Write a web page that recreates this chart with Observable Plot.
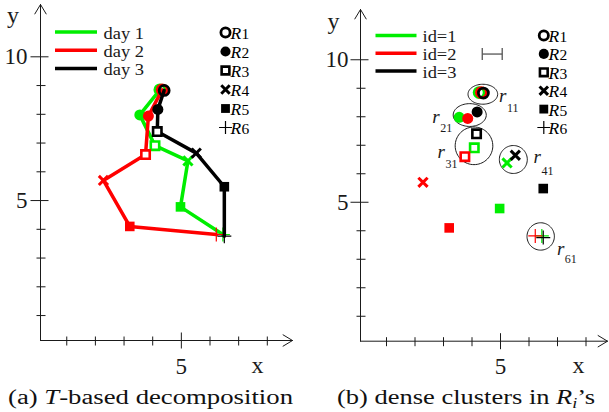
<!DOCTYPE html>
<html><head><meta charset="utf-8">
<script src="https://cdn.jsdelivr.net/npm/d3@7"></script>
<script src="https://cdn.jsdelivr.net/npm/@observablehq/plot@0.6"></script>
<style>
body{margin:0;background:#fff;}
#wrap{display:flex;width:609px;height:412px;overflow:hidden;}
.panel{position:relative;}
.panel svg{display:block;}
.cap{position:absolute;top:383px;white-space:nowrap;font-family:"Liberation Serif",serif;font-size:20.5px;color:#111;line-height:29px;transform-origin:0 0;}
.cap sub{font-size:14px;vertical-align:-4px;line-height:0;}
</style></head><body><div id="wrap"></div>
<script>
// ---- data ----
const regions = ["1","2","3","4","5","6"];            // R1..R6
const seriesA = ["day 1","day 2","day 3"];
const seriesB = ["id=1","id=2","id=3"];
const seriesColors = ["#00ee00","#ff0000","#000000"];
const xs1 = [4.25,3.55,4.08,5.23,4.97,6.45];
const ys1 = [8.85,7.98,6.91,6.38,4.78,3.82];
const xs2 = [4.33,3.85,3.75,2.28,3.20,6.22];
const ys2 = [8.85,7.94,6.60,5.70,4.10,3.82];
const xs3 = [4.40,4.18,4.16,5.52,6.50,6.50];
const ys3 = [8.83,8.17,7.40,6.65,5.48,3.76];
const clusterNames = ["11","21","31","41","61"];
const clusterX  = [4.38,3.92,4.07,5.45,6.41];
const clusterY  = [8.79,8.06,6.98,6.50,3.80];
const clusterRx = [0.52,0.58,0.66,0.49,0.48];
const clusterRy = [0.35,0.40,0.66,0.49,0.48];
const epsBarX = [4.36,5.06];
const epsBarY = [10.2];
const xTicks = [1,2,3,4,5,6,7,8];
const yTicks = [1,2,3,4,5,6,7,8,9,10];
const xTickLabels = [5];
const yTickLabels = [5,10];

const XS = [xs1,xs2,xs3], YS = [ys1,ys2,ys3];
const points = [];
XS.forEach((xs,k)=>xs.forEach((x,i)=>points.push({s:k,r:i,x,y:YS[k][i]})));

// ---- layout / styles ----
const sym = {
  square:h=>({draw(c){c.rect(-h,-h,2*h,2*h);}}),
  cross:h=>({draw(c){c.moveTo(-h,-h);c.lineTo(h,h);c.moveTo(-h,h);c.lineTo(h,-h);}}),
  plus:h=>({draw(c){c.moveTo(-h,0);c.lineTo(h,0);c.moveTo(0,-h);c.lineTo(0,h);}}),
  vtick:(a,b)=>({draw(c){c.moveTo(0,a);c.lineTo(0,b);}}),
  htick:(a,b)=>({draw(c){c.moveTo(a,0);c.lineTo(b,0);}})
};
function markerOpts(i, col, k){
  k = k||1;
  switch(i){
    case 0: return {symbol:"circle", r:5*k, fill:"none", stroke:col, strokeWidth:2.8};
    case 1: return {symbol:"circle", r:5.5*k, fill:col, stroke:"none"};
    case 2: return {symbol:sym.square(4.2*k), fill:"white", stroke:col, strokeWidth:2.6};
    case 3: return {symbol:sym.cross(4.6*k), fill:"none", stroke:col, strokeWidth:3};
    case 4: return {symbol:sym.square(4.8*k), fill:col, stroke:"none"};
    case 5: return {symbol:sym.plus(7*k), fill:"none", stroke:col, strokeWidth:1.2};
  }
}
const serif = "Liberation Serif";
const legendStretch = 1.12;

const panels = [
  {width:304, x0:37.6, kx:28.65, xMax:8.9, y0:343.8, ky:28.75, yMax:11.85,
   axis:[40,340], xTip:292, yTip:4, yLblDx:-13, xLbl:[257,372], yLbl:[12.5,22],
   legLine:[54.5,96.5], legText:103, legRow0:31.5, legStep:18.2, names:seriesA,
   rMark:225, rText:230, rRow0:32, rRow:19, lines:true,
   caption:'(a) <i>T</i>-based decomposition', capLeft:8, capWidth:285},
  {width:305, x0:53.5, kx:28.5, xMax:8.8, y0:344.25, ky:28.5, yMax:11.75,
   axis:[56,340.7], xTip:303, yTip:9, yLblDx:-12, xLbl:[274,372], yLbl:[29,28],
   legLine:[71,112], legText:118, legRow0:35, legStep:17.8, names:seriesB,
   rMark:239.3, rText:244, rRow0:35, rRow:18.4, lines:false,
   caption:'(b) dense clusters in <i>R<sub>i</sub></i>’s', capLeft:32.7, capWidth:258}
];
const labelOffsets = { // px offsets of cluster labels from cluster centre: [r centre dx, r baseline dy, sub baseline dy]
  "11":[20,8,18], "21":[-33.6,8,17], "31":[-32.7,12,22], "41":[24,3,15], "61":[20,19,27]
};

function build(p){
  const ix = px => (px - p.x0)/p.kx;
  const iy = py => (p.y0 - py)/p.ky;
  const ox = ix(p.axis[0]), oy = iy(p.axis[1]);
  const M = [];
  const ink = "#1a1a1a";
  // axes
  M.push(Plot.arrow([0],{x1:()=>ox,y1:()=>oy,x2:()=>ix(p.xTip),y2:()=>oy,stroke:ink,strokeWidth:1,headAngle:62,headLength:16.5}));
  M.push(Plot.arrow([0],{x1:()=>ox,y1:()=>oy,x2:()=>ox,y2:()=>iy(p.yTip),stroke:ink,strokeWidth:1,headAngle:62,headLength:16.5}));
  M.push(Plot.dot(xTicks.filter(t=>!xTickLabels.includes(t)),{x:d=>d,y:()=>oy,symbol:sym.vtick(-4,5),stroke:ink,strokeWidth:1}));
  M.push(Plot.dot(xTickLabels,{x:d=>d,y:()=>oy,symbol:sym.vtick(-8,8),stroke:ink,strokeWidth:1}));
  M.push(Plot.dot(yTicks.filter(t=>!yTickLabels.includes(t)),{x:()=>ox,y:d=>d,symbol:sym.htick(-4,5),stroke:ink,strokeWidth:1}));
  M.push(Plot.dot(yTickLabels,{x:()=>ox,y:d=>d,symbol:sym.htick(-10,8),stroke:ink,strokeWidth:1}));
  M.push(Plot.text(xTickLabels,{x:d=>d,y:()=>oy,text:d=>String(d),dy:33,lineAnchor:"bottom",fontSize:23,fontFamily:serif,fill:ink}));
  M.push(Plot.text(yTickLabels,{x:()=>ox,y:d=>d,text:d=>String(d),dx:p.yLblDx,textAnchor:"end",lineAnchor:"middle",fontSize:23,fontFamily:serif,fill:ink}));
  M.push(Plot.text(["x"],{x:()=>ix(p.xLbl[0]),y:()=>iy(p.xLbl[1]),text:d=>d,lineAnchor:"bottom",fontSize:24,fontFamily:serif,fill:ink}));
  M.push(Plot.text(["y"],{x:()=>ix(p.yLbl[0]),y:()=>iy(p.yLbl[1]),text:d=>d,lineAnchor:"bottom",fontSize:24,fontFamily:serif,fill:ink}));
  // series legend
  p.names.forEach((n,k)=>{
    const ry = p.legRow0 + k*p.legStep;
    M.push(Plot.link([n],{x1:()=>ix(p.legLine[0]),x2:()=>ix(p.legLine[1]),y1:()=>iy(ry),y2:()=>iy(ry),stroke:seriesColors[k],strokeWidth:3.5}));
    M.push(Plot.text([n],{x:()=>ix(p.legText),y:()=>iy(ry+1.5),text:d=>d,textAnchor:"start",lineAnchor:"middle",fontSize:16.5,fontFamily:serif,fill:ink}));
  });
  // region legend
  regions.forEach((r,i)=>{
    const ry = p.rRow0 + i*p.rRow;
    M.push(Plot.dot([r],{x:()=>ix(p.rMark),y:()=>iy(ry),...markerOpts(i,"#000",0.92)}));
    M.push(Plot.text([r],{x:()=>ix(p.rText),y:()=>iy(ry+6.5),text:d=>"R"+d,textAnchor:"start",lineAnchor:"bottom",fontSize:16.5,fontFamily:serif,fill:"#000"}));
  });
  if(p.lines){
    seriesColors.forEach((c,k)=>{
      const pts = points.filter(d=>d.s===k);
      M.push(Plot.line(pts,{x:"x",y:"y",stroke:c,strokeWidth:3.5,strokeLinejoin:"round"}));
      regions.forEach((r,i)=>M.push(Plot.dot(pts.filter(d=>d.r===i),{x:"x",y:"y",...markerOpts(i,c)})));
    });
  } else {
    // clusters
    const ell = [];
    clusterNames.forEach((n,j)=>{ for(let a=0;a<72;a++){const t=a/72*2*Math.PI; ell.push({c:n,x:clusterX[j]+clusterRx[j]*Math.cos(t),y:clusterY[j]+clusterRy[j]*Math.sin(t)});}});
    M.push(Plot.line(ell,{x:"x",y:"y",z:"c",curve:"linear-closed",stroke:ink,strokeWidth:1}));
    clusterNames.forEach((n,j)=>{
      const o = labelOffsets[n];
      M.push(Plot.text([n],{x:()=>clusterX[j]+(o[0]-3.8)/p.kx,y:()=>clusterY[j]-o[1]/p.ky,text:d=>"r"+d,textAnchor:"start",lineAnchor:"bottom",fontSize:19,fontFamily:serif,fill:ink}));
    });
    // epsilon bar
    M.push(Plot.link(epsBarY,{x1:()=>epsBarX[0],x2:()=>epsBarX[1],y1:d=>d,y2:d=>d,stroke:"#555",strokeWidth:1.3}));
    M.push(Plot.dot(epsBarX,{x:d=>d,y:()=>epsBarY[0],symbol:sym.vtick(-6,6),stroke:"#555",strokeWidth:1.3}));
    seriesColors.forEach((c,k)=>{
      const pts = points.filter(d=>d.s===k);
      regions.forEach((r,i)=>M.push(Plot.dot(pts.filter(d=>d.r===i),{x:"x",y:"y",...markerOpts(i,c)})));
    });
  }
  const svg = Plot.plot({
    width:p.width, height:383, style:{background:"white",overflow:"visible"},
    x:{domain:[0,p.xMax],range:[p.x0,p.x0+p.xMax*p.kx],axis:null},
    y:{domain:[0,p.yMax],range:[p.y0,p.y0-p.yMax*p.ky],axis:null},
    color:{type:"identity"},
    marks:M
  });
  // mixed-style labels: italic letter + upright index
  const NS = "http://www.w3.org/2000/svg";
  svg.querySelectorAll("text").forEach(t=>{
    const s = t.textContent; let m;
    const span = (txt, attrs) => { const e=document.createElementNS(NS,"tspan"); e.textContent=txt; for(const k in attrs) e.setAttribute(k,attrs[k]); t.appendChild(e); };
    if((m = s.match(/^R(\d)$/))){
      t.textContent=""; span("R",{"font-style":"italic","font-size":"17.5"}); span(m[1],{"font-size":"15.5","dx":"0.3"});
    } else if((m = s.match(/^r(\d\d)$/))){
      const o = labelOffsets[m[1]];
      t.textContent=""; span("r",{"font-style":"italic"}); span(m[1],{"font-size":"12","dx":"0.5","dy":String(o[2]-o[1])});
    }
  });
  const div = document.createElement("div");
  div.className="panel"; div.style.width=p.width+"px"; div.style.height="412px";
  div.appendChild(svg);
  const cap = document.createElement("div");
  cap.className="cap"; cap.innerHTML=p.caption; cap.style.left=p.capLeft+"px";
  div.appendChild(cap);
  document.getElementById("wrap").appendChild(div);
  // widen legend labels a little (the reference lettering is horizontally stretched)
  svg.querySelectorAll("text").forEach(t=>{
    if(p.names.includes(t.textContent)){
      const L = t.getComputedTextLength();
      t.setAttribute("textLength",(L*legendStretch).toFixed(1));
      t.setAttribute("lengthAdjust","spacingAndGlyphs");
    }
  });
  // stretch caption horizontally to the reference width
  const w = cap.getBoundingClientRect().width;
  cap.style.transform = "scaleX(" + (p.capWidth / w).toFixed(4) + ")";
}
panels.forEach(build);
</script></body></html>
